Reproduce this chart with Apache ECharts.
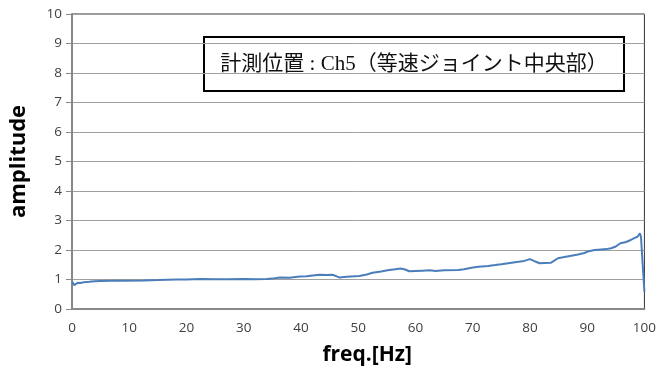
<!DOCTYPE html>
<html><head><meta charset="utf-8">
<script src="https://cdn.jsdelivr.net/npm/echarts@6/dist/echarts.min.js"></script>
<style>html,body{margin:0;padding:0;background:#fff;}#c{width:659px;height:376px;}</style>
</head><body><div id="c"></div>
<script>
const freq = [0,0.2,0.4,0.7,1.0,1.5,2.1,3,3.9,5,6.8,9,12.5,15,18.3,20,22.4,25,27,30,32,34,35,36.3,38,39.8,41,43.2,44.5,45.5,46.7,48,50.2,51.5,52.5,54,55.4,56.5,57.4,58.2,58.9,60,61.2,62.5,63.5,65,67.5,68.5,69.8,71,72.7,73.9,75,76.8,78,79,80,80.8,81.7,82.5,83.7,84.9,86,87,88.4,89.5,90.3,91.3,92.5,93.3,94.2,95,95.8,96.8,97.5,98.2,98.8,99.2,99.4,99.7,100];
const amp = [0.93,0.95,0.81,0.86,0.89,0.88,0.91,0.92,0.94,0.95,0.96,0.96,0.97,0.98,1.0,1.0,1.02,1.01,1.01,1.02,1.01,1.02,1.03,1.07,1.06,1.10,1.11,1.16,1.15,1.16,1.07,1.09,1.12,1.17,1.23,1.27,1.32,1.35,1.37,1.34,1.28,1.29,1.30,1.31,1.29,1.31,1.32,1.35,1.40,1.43,1.46,1.49,1.52,1.57,1.60,1.63,1.69,1.62,1.55,1.56,1.57,1.72,1.76,1.80,1.85,1.90,1.96,2.0,2.02,2.03,2.06,2.12,2.23,2.27,2.33,2.40,2.45,2.57,2.45,1.5,0.59];
const xTitle = 'freq.[Hz]';
const yTitle = 'amplitude';
const note = '計測位置 : Ch5（等速ジョイント中央部）';

const chart = echarts.init(document.getElementById('c'), null, {renderer:'canvas'});
chart.setOption({
  animation:false,
  grid:{left:71, right:12, top:14, bottom:67, show:true, borderColor:'#333', borderWidth:1, backgroundColor:'transparent'},
  xAxis:{type:'value', min:0, max:100, interval:10,
    name:xTitle, nameLocation:'middle', nameGap:36,
    nameTextStyle:{fontFamily:'Open Sans', fontWeight:'bold', fontSize:21, color:'#000', padding:[0,0,0,18]},
    axisLine:{show:true, lineStyle:{color:'#888', width:2}},
    axisTick:{show:false},
    axisLabel:{fontFamily:'Open Sans', fontSize:13.5, color:'#404040', margin:12},
    splitLine:{show:false}},
  yAxis:{type:'value', min:0, max:10, interval:1,
    name:yTitle, nameLocation:'middle', nameGap:42,
    nameTextStyle:{fontFamily:'Open Sans', fontWeight:'bold', fontSize:22, color:'#000'},
    axisLine:{show:true, lineStyle:{color:'#888', width:2}},
    axisTick:{show:true, length:6, lineStyle:{color:'#888', width:1}},
    axisLabel:{fontFamily:'Open Sans', fontSize:13.5, color:'#404040', margin:10},
    splitLine:{show:true, lineStyle:{color:'#a0a0a0', width:1}}},
  series:[{type:'line', data:freq.map((f,i)=>[f,amp[i]]), showSymbol:false, symbol:'none',
    lineStyle:{color:'#4a7ebb', width:2}, z:3}],
  graphic:[{type:'group', left:203, top:36, z:10, children:[
    {type:'rect', shape:{x:0,y:0,width:420,height:54}, style:{fill:'#fff', stroke:'#000', lineWidth:2}},
    {type:'text', x:210, y:27, style:{text:note, fontFamily:'Liberation Serif, Noto Sans CJK JP', fontSize:21, fill:'#111', textAlign:'center', textVerticalAlign:'middle'}}
  ]}]
});
</script></body></html>
